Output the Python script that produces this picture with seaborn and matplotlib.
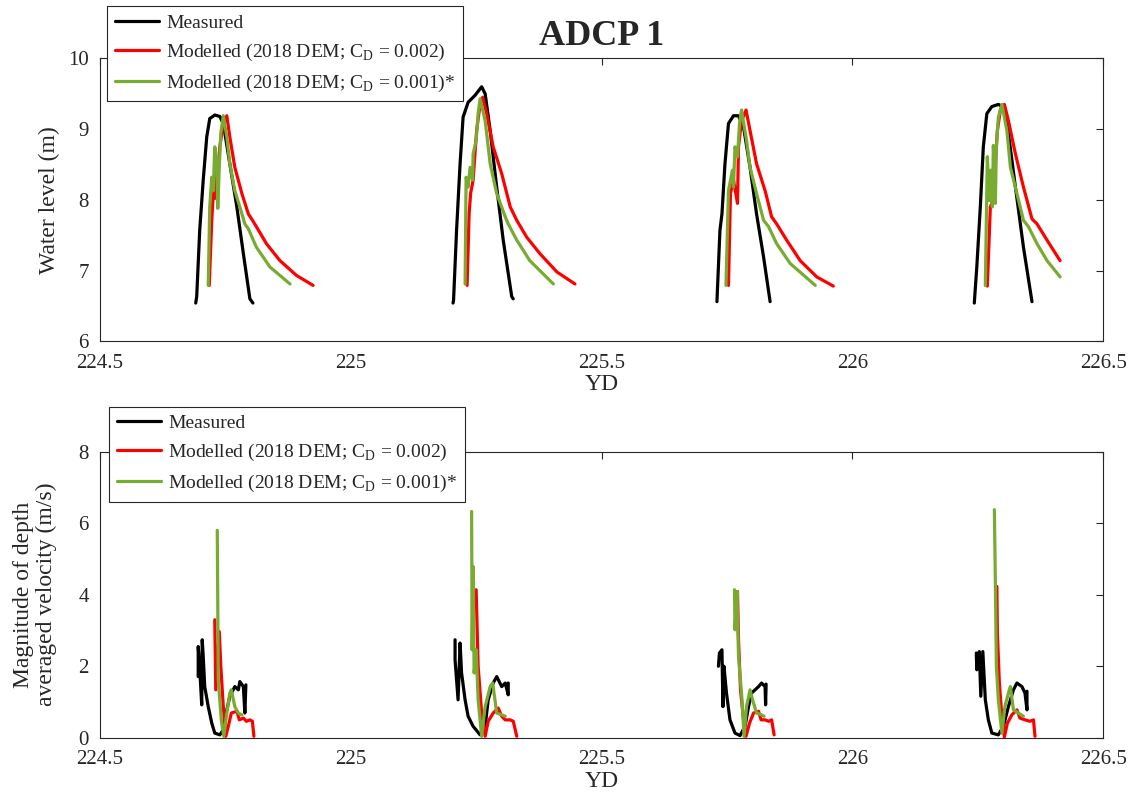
import numpy as np
import matplotlib
matplotlib.use('Agg')
import matplotlib.pyplot as plt
import seaborn as sns
from matplotlib.lines import Line2D

# ---- Water level (m), four tidal events, YD / value pairs ----
wl_meas_t = [
    [224.691, 224.693, 224.699, 224.706, 224.713, 224.719, 224.729, 224.739, 224.746, 224.759, 224.773, 224.786, 224.799, 224.805],
    [225.204, 225.205, 225.211, 225.218, 225.224, 225.234, 225.248, 225.261, 225.268, 225.278, 225.291, 225.304, 225.321, 225.324],
    [225.730, 225.736, 225.740, 225.746, 225.753, 225.763, 225.773, 225.783, 225.796, 225.809, 225.823, 225.836],
    [226.243, 226.248, 226.255, 226.261, 226.268, 226.278, 226.291, 226.301, 226.311, 226.325, 226.341, 226.358],
]
wl_meas_v = [
    [6.54, 6.63, 7.57, 8.28, 8.89, 9.15, 9.20, 9.18, 9.08, 8.51, 7.90, 7.24, 6.60, 6.54],
    [6.54, 6.58, 7.57, 8.51, 9.17, 9.38, 9.48, 9.60, 9.50, 8.98, 8.18, 7.43, 6.63, 6.60],
    [6.56, 7.57, 7.80, 8.51, 9.08, 9.19, 9.19, 9.03, 8.46, 7.80, 7.19, 6.56],
    [6.54, 7.05, 7.90, 8.75, 9.22, 9.32, 9.35, 9.31, 8.94, 8.18, 7.33, 6.56],
]
wl_red_t = [
    [224.718, 224.723, 224.726, 224.729, 224.731, 224.735, 224.739, 224.745, 224.753, 224.759, 224.769, 224.783, 224.796, 224.806, 224.812, 224.832, 224.859, 224.892, 224.925],
    [225.232, 225.236, 225.239, 225.244, 225.251, 225.258, 225.263, 225.271, 225.284, 225.301, 225.318, 225.331, 225.351, 225.377, 225.411, 225.447],
    [225.753, 225.757, 225.763, 225.771, 225.773, 225.779, 225.788, 225.796, 225.809, 225.826, 225.839, 225.849, 225.869, 225.896, 225.929, 225.962],
    [226.269, 226.275, 226.278, 226.285, 226.289, 226.295, 226.303, 226.311, 226.325, 226.341, 226.358, 226.368, 226.388, 226.414],
]
wl_red_v = [
    [6.79, 7.71, 8.09, 8.02, 8.35, 8.30, 8.75, 9.03, 9.19, 8.89, 8.46, 8.09, 7.80, 7.69, 7.62, 7.38, 7.14, 6.93, 6.79],
    [6.79, 7.80, 8.09, 8.28, 8.98, 9.36, 9.45, 9.22, 8.75, 8.37, 7.90, 7.71, 7.47, 7.24, 6.98, 6.81],
    [6.79, 8.09, 8.28, 7.95, 8.75, 9.12, 9.27, 8.98, 8.51, 8.13, 7.76, 7.66, 7.43, 7.14, 6.91, 6.78],
    [6.78, 7.90, 7.95, 8.51, 8.98, 9.27, 9.35, 9.12, 8.65, 8.18, 7.73, 7.66, 7.43, 7.14],
]
wl_green_t = [
    [224.716, 224.719, 224.723, 224.726, 224.729, 224.733, 224.735, 224.738, 224.741, 224.746, 224.753, 224.759, 224.769, 224.779, 224.789, 224.796, 224.812, 224.839, 224.879],
    [225.228, 225.230, 225.234, 225.238, 225.243, 225.244, 225.250, 225.254, 225.258, 225.268, 225.278, 225.291, 225.308, 225.314, 225.331, 225.357, 225.404],
    [225.748, 225.753, 225.757, 225.761, 225.763, 225.766, 225.771, 225.775, 225.779, 225.789, 225.796, 225.809, 225.823, 225.833, 225.849, 225.876, 225.926],
    [226.265, 226.269, 226.273, 226.276, 226.279, 226.281, 226.285, 226.287, 226.291, 226.298, 226.308, 226.315, 226.328, 226.341, 226.351, 226.368, 226.388, 226.414],
]
wl_green_v = [
    [6.79, 7.90, 8.32, 8.13, 8.75, 8.56, 7.88, 8.46, 8.94, 9.19, 8.89, 8.51, 8.13, 7.90, 7.66, 7.59, 7.33, 7.05, 6.81],
    [6.81, 8.32, 8.18, 8.46, 8.28, 8.65, 8.84, 9.22, 9.43, 9.12, 8.51, 8.09, 7.76, 7.66, 7.43, 7.14, 6.81],
    [6.79, 8.13, 8.28, 8.42, 8.18, 8.75, 8.61, 9.08, 9.27, 8.84, 8.46, 8.09, 7.71, 7.62, 7.38, 7.10, 6.79],
    [6.79, 8.61, 7.99, 8.42, 7.90, 8.77, 7.95, 8.75, 9.17, 9.35, 8.98, 8.46, 8.09, 7.71, 7.62, 7.38, 7.14, 6.91],
]

# ---- Depth averaged velocity (m/s) ----
vel_meas_t = [
    [224.696, 224.696, 224.699, 224.703, 224.704, 224.706, 224.709, 224.716, 224.723, 224.729, 224.739, 224.746, 224.753, 224.759, 224.769, 224.776, 224.779, 224.786, 224.789, 224.791],
    [225.208, 225.208, 225.214, 225.218, 225.221, 225.228, 225.234, 225.244, 225.258, 225.268, 225.274, 225.284, 225.291, 225.301, 225.308, 225.314, 225.314],
    [225.733, 225.735, 225.740, 225.742, 225.744, 225.749, 225.756, 225.766, 225.776, 225.786, 225.793, 225.799, 225.813, 225.819, 225.826, 225.827, 225.828],
    [226.247, 226.248, 226.253, 226.256, 226.260, 226.265, 226.271, 226.278, 226.291, 226.301, 226.311, 226.321, 226.328, 226.338, 226.344, 226.348, 226.348],
]
vel_meas_v = [
    [1.71, 2.55, 1.95, 0.92, 2.74, 2.27, 1.43, 0.87, 0.41, 0.13, 0.08, 0.22, 0.78, 1.16, 1.43, 1.34, 1.57, 1.43, 0.69, 1.48],
    [2.74, 2.18, 1.06, 2.65, 1.81, 1.06, 0.60, 0.32, 0.08, 0.32, 1.06, 1.53, 1.71, 1.43, 1.53, 1.20, 1.53],
    [2.00, 2.37, 2.46, 0.87, 2.00, 1.25, 0.50, 0.13, 0.06, 0.32, 0.87, 1.25, 1.43, 1.53, 1.43, 0.92, 1.50],
    [2.37, 1.90, 2.41, 1.16, 2.41, 1.06, 0.50, 0.13, 0.08, 0.32, 0.87, 1.34, 1.53, 1.43, 1.25, 0.78, 1.30],
]
vel_red_t = [
    [224.729, 224.731, 224.738, 224.741, 224.746, 224.751, 224.756, 224.762, 224.773, 224.778, 224.786, 224.792, 224.799, 224.804, 224.807],
    [225.250, 225.254, 225.261, 225.268, 225.274, 225.284, 225.294, 225.301, 225.308, 225.318, 225.324, 225.331],
    [225.771, 225.773, 225.777, 225.783, 225.788, 225.795, 225.803, 225.813, 225.818, 225.826, 225.833, 225.839, 225.844],
    [226.288, 226.289, 226.293, 226.298, 226.303, 226.309, 226.318, 226.328, 226.334, 226.344, 226.354, 226.361, 226.364],
]
vel_red_v = [
    [3.30, 1.34, 2.97, 2.00, 0.87, 0.04, 0.32, 0.69, 0.74, 0.50, 0.55, 0.46, 0.50, 0.46, 0.04],
    [4.14, 2.00, 0.69, 0.04, 0.46, 0.69, 0.83, 0.60, 0.50, 0.50, 0.46, 0.04],
    [4.09, 2.74, 1.34, 0.50, 0.04, 0.41, 0.69, 0.74, 0.50, 0.50, 0.46, 0.50, 0.08],
    [4.23, 2.93, 1.53, 0.60, 0.02, 0.41, 0.64, 0.78, 0.55, 0.50, 0.46, 0.50, 0.04],
]
vel_green_t = [
    [224.734, 224.736, 224.742, 224.747, 224.753, 224.759, 224.762, 224.769, 224.776, 224.783],
    [225.241, 225.242, 225.244, 225.246, 225.250, 225.254, 225.261, 225.268, 225.278, 225.283, 225.291, 225.301, 225.308],
    [225.765, 225.766, 225.770, 225.773, 225.780, 225.784, 225.789, 225.796, 225.801, 225.809, 225.819, 225.824],
    [226.283, 226.285, 226.287, 226.291, 226.298, 226.304, 226.311, 226.315, 226.321, 226.331, 226.341],
]
vel_green_v = [
    [5.80, 1.62, 0.50, 0.04, 0.69, 1.25, 1.34, 0.87, 0.69, 0.64],
    [6.33, 2.46, 4.79, 1.81, 2.46, 1.06, 0.04, 0.87, 1.43, 1.53, 0.69, 0.64, 0.60],
    [4.14, 3.02, 4.09, 2.27, 1.06, 0.04, 0.87, 1.34, 1.06, 0.69, 0.64, 0.60],
    [6.38, 4.33, 2.00, 1.06, 0.13, 0.87, 1.25, 1.43, 0.78, 0.69, 0.60],
]

labels = ['Measured',
          r'Modelled (2018 DEM; C$_\mathregular{D}$ = 0.002)',
          r'Modelled (2018 DEM; C$_\mathregular{D}$ = 0.001)*']
colors = ['black', '#ff0000', '#77ac30']
xticks = [224.5, 225, 225.5, 226, 226.5]
xticklabels = ['224.5', '225', '225.5', '226', '226.5']

sns.set_theme(style='white')
plt.rcParams['font.family'] = ['Liberation Serif', 'DejaVu Serif']
plt.rcParams['mathtext.fontset'] = 'custom'
plt.rcParams['mathtext.rm'] = 'Liberation Serif'
plt.rcParams['xtick.direction'] = 'in'
plt.rcParams['ytick.direction'] = 'in'

fig = plt.figure(figsize=(11.35, 8.01), dpi=100)
ax1 = fig.add_axes([0.088, 0.574, 0.884, 0.353])
ax2 = fig.add_axes([0.088, 0.079, 0.884, 0.357])

panels = [
    (ax1, [(wl_meas_t, wl_meas_v), (wl_red_t, wl_red_v), (wl_green_t, wl_green_v)]),
    (ax2, [(vel_meas_t, vel_meas_v), (vel_red_t, vel_red_v), (vel_green_t, vel_green_v)]),
]

for ax, series in panels:
    for (ts, vs), c in zip(series, colors):
        for t, v in zip(ts, vs):
            sns.lineplot(x=t, y=v, ax=ax, color=c, lw=2.3, sort=False,
                         estimator=None, legend=False)

# axes styling, matlab-ish
for ax in (ax1, ax2):
    ax.set_xlim(224.5, 226.5)
    ax.set_xticks(xticks)
    ax.set_xticklabels(xticklabels)
    ax.set_xlabel('YD', fontsize=17, color='#262626', labelpad=1)
    ax.tick_params(axis='both', labelsize=15, colors='#262626', length=5,
                   width=0.8, top=True, right=True, direction='in')
    ax.tick_params(axis='x', pad=9)
    ax.tick_params(axis='y', pad=8)
    for s in ax.spines.values():
        s.set_color('#262626')
        s.set_linewidth(0.8)
        s.set_visible(True)

ax1.set_ylim(6, 10)
ax1.set_yticks([6, 7, 8, 9, 10])
ax1.set_ylabel('Water level (m)', fontsize=17, color='#262626', labelpad=6)
ax1.set_title('ADCP 1', fontsize=26, fontweight='bold', pad=10)

ax2.set_ylim(0, 8)
ax2.set_yticks([0, 2, 4, 6, 8])
ax2.set_ylabel('Magnitude of depth\naveraged velocity (m/s)', fontsize=17,
               color='#262626', labelpad=15, linespacing=1.15)

handles = [Line2D([], [], color=c, lw=2.3) for c in colors]
for ax, anchor in ((ax1, (0.007, 1.184)), (ax2, (0.009, 1.157))):
    leg = ax.legend(handles, labels, loc='upper left', bbox_to_anchor=anchor,
                    borderaxespad=0, fontsize=14, frameon=True, fancybox=False,
                    framealpha=1, edgecolor='#262626', handlelength=2.3,
                    handletextpad=0.35, labelspacing=0.5, borderpad=0.4)
    leg.get_frame().set_linewidth(0.8)

fig.savefig('out.png', dpi=100, facecolor='white')
